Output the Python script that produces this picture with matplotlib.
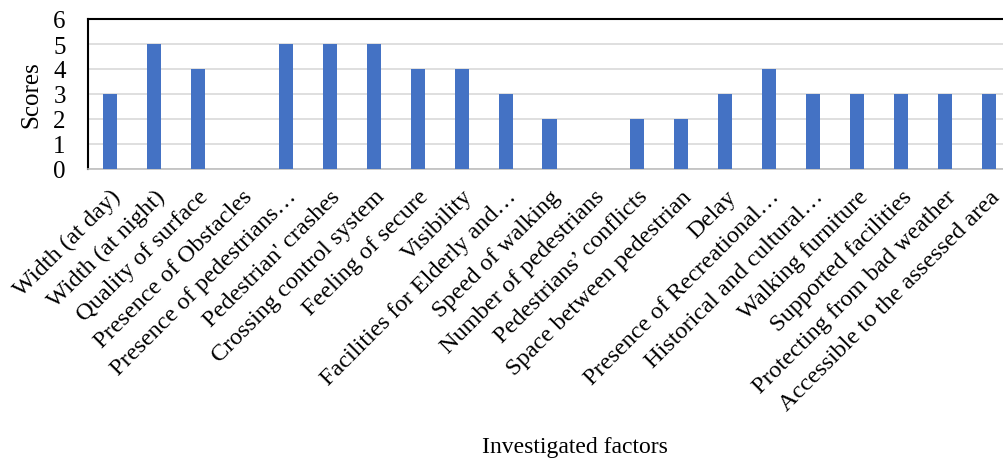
import matplotlib
matplotlib.use("Agg")
import matplotlib.pyplot as plt
import numpy as np

factors = [
    "Width (at day)", "Width (at night)", "Quality of surface",
    "Presence of Obstacles", "Presence of pedestrians\u2026",
    "Pedestrian' crashes", "Crossing control system", "Feeling of secure",
    "Visibility", "Facilities for Elderly and\u2026", "Speed of walking",
    "Number of pedestrians", "Pedestrians\u2019 conflicts",
    "Space between pedestrian", "Delay", "Presence of Recreational\u2026",
    "Historical and cultural\u2026", "Walking furniture",
    "Supported facilities", "Protecting from bad weather",
    "Accessible to the assessed area",
]
scores = [3, 5, 4, 0, 5, 5, 5, 4, 4, 3, 2, 0, 2, 2, 3, 4, 3, 3, 3, 3, 3]
y_ticks = [0, 1, 2, 3, 4, 5, 6]

plt.rcParams["font.family"] = ["Liberation Serif", "DejaVu Serif"]

fig = plt.figure(figsize=(10.04, 4.6), dpi=100)
ax = fig.add_axes([88 / 1004, 1 - 170 / 460, (1011 - 88) / 1004, 150 / 460])

x = np.arange(len(factors))
ax.bar(x, scores, width=0.32, color="#4472C4", zorder=3)

ax.set_xlim(-0.5, len(factors) - 0.5)
ax.set_ylim(0, 6)
ax.set_yticks(y_ticks)
ax.set_yticklabels([str(v) for v in y_ticks], fontsize=18)
ax.yaxis.grid(True, color="#D9D9D9", linewidth=1.2, zorder=0)
ax.set_axisbelow(True)

ax.set_xticks(x)
ax.set_xticklabels(factors, rotation=45, ha="right", rotation_mode="anchor",
                   fontsize=17.5)
ax.tick_params(axis="both", length=0)
ax.tick_params(axis="x", pad=12)
ax.tick_params(axis="y", pad=16)

for side in ("left", "top"):
    ax.spines[side].set_color("black")
    ax.spines[side].set_linewidth(1.5)
ax.spines["right"].set_visible(False)
ax.spines["bottom"].set_color("#BFBFBF")
ax.spines["bottom"].set_linewidth(1.2)

fig.text(31 / 1004, 1 - 95 / 460, "Scores", fontsize=18, rotation=90,
         ha="center", va="center")
fig.text(575 / 1004, 1 - 448 / 460, "Investigated factors", fontsize=17,
         ha="center", va="center")

fig.savefig("out.png", dpi=100)
